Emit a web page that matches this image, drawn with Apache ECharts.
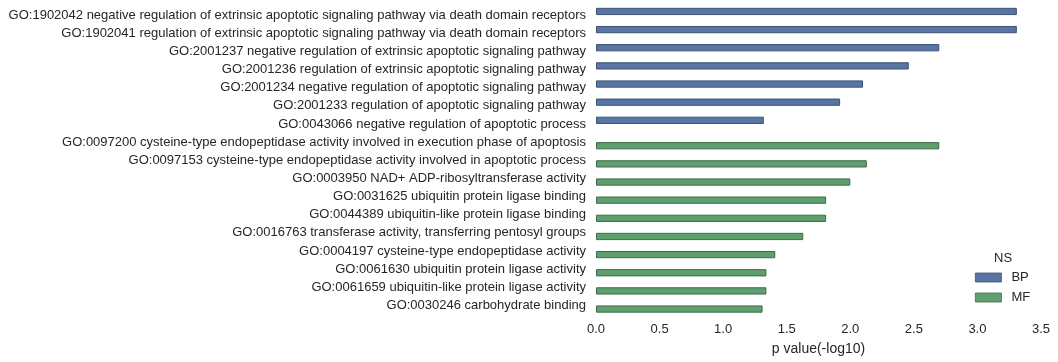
<!DOCTYPE html>
<html>
<head>
<meta charset="utf-8">
<script src="https://cdn.jsdelivr.net/npm/echarts@6/dist/echarts.min.js"></script>
<style>html,body{margin:0;padding:0;background:#fff;}#c{width:1058px;height:362px;}</style>
</head>
<body>
<div id="c"></div>
<script>
const categories = [
  "GO:1902042 negative regulation of extrinsic apoptotic signaling pathway via death domain receptors",
  "GO:1902041 regulation of extrinsic apoptotic signaling pathway via death domain receptors",
  "GO:2001237 negative regulation of extrinsic apoptotic signaling pathway",
  "GO:2001236 regulation of extrinsic apoptotic signaling pathway",
  "GO:2001234 negative regulation of apoptotic signaling pathway",
  "GO:2001233 regulation of apoptotic signaling pathway",
  "GO:0043066 negative regulation of apoptotic process",
  "GO:0097200 cysteine-type endopeptidase activity involved in execution phase of apoptosis",
  "GO:0097153 cysteine-type endopeptidase activity involved in apoptotic process",
  "GO:0003950 NAD+ ADP-ribosyltransferase activity",
  "GO:0031625 ubiquitin protein ligase binding",
  "GO:0044389 ubiquitin-like protein ligase binding",
  "GO:0016763 transferase activity, transferring pentosyl groups",
  "GO:0004197 cysteine-type endopeptidase activity",
  "GO:0061630 ubiquitin protein ligase activity",
  "GO:0061659 ubiquitin-like protein ligase activity",
  "GO:0030246 carbohydrate binding"
];
const bpValues = [3.31, 3.31, 2.70, 2.46, 2.10, 1.92, 1.32, null, null, null, null, null, null, null, null, null, null];
const mfValues = [null, null, null, null, null, null, null, 2.70, 2.13, 2.00, 1.81, 1.81, 1.63, 1.41, 1.34, 1.34, 1.31];
const xTicks = [0, 0.5, 1.0, 1.5, 2.0, 2.5, 3.0, 3.5];

const chart = echarts.init(document.getElementById('c'), null, {renderer: 'canvas'});
const textColor = '#262626';
const font = 'Liberation Sans, Arial, sans-serif';
chart.setOption({
  animation: false,
  backgroundColor: '#fff',
  textStyle: {fontFamily: font},
  grid: {left: 596, right: 17, top: 6, bottom: 47.5, containLabel: false},
  xAxis: {
    type: 'value', min: xTicks[0], max: xTicks[xTicks.length - 1], interval: 0.5,
    axisLine: {show: false}, axisTick: {show: false}, splitLine: {show: false},
    axisLabel: {color: textColor, fontSize: 13, margin: 8, fontFamily: font,
      formatter: v => v.toFixed(1)},
    name: 'p value(-log10)', nameLocation: 'middle', nameGap: 28,
    nameTextStyle: {color: textColor, fontSize: 14, fontFamily: font}
  },
  yAxis: {
    type: 'category', data: categories, inverse: true,
    axisLine: {show: false}, axisTick: {show: false}, splitLine: {show: false},
    axisLabel: {color: textColor, fontSize: 13, margin: 10, fontFamily: font}
  },
  legend: {
    left: 975, top: 271, padding: 0, orient: 'vertical', icon: 'rect',
    itemWidth: 26, itemHeight: 9, itemGap: 7,
    itemStyle: {borderWidth: 0.8},
    textStyle: {color: textColor, fontSize: 13, fontFamily: font, padding: [0, 0, 0, 5]},
    data: ['BP', 'MF']
  },
  graphic: [{type: 'text', left: 994, top: 252, style: {text: 'NS', fill: textColor, font: '13px ' + font}}],
  series: [
    {name: 'BP', type: 'bar', data: bpValues, barWidth: '40%', barGap: '0%',
     itemStyle: {color: '#5975a4', borderColor: '#3d5174', borderWidth: 1}},
    {name: 'MF', type: 'bar', data: mfValues, barWidth: '40%', barGap: '0%',
     itemStyle: {color: '#5f9e6e', borderColor: '#3f6a4a', borderWidth: 1}}
  ]
});
</script>
</body>
</html>
